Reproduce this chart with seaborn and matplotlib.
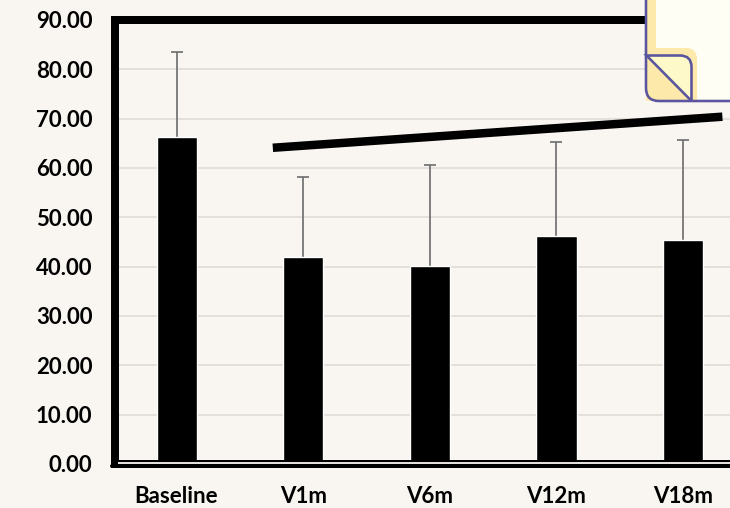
import matplotlib
matplotlib.use("Agg")
import matplotlib.pyplot as plt
import matplotlib.patches as mpatches
import pandas as pd
import seaborn as sns

visits = ["Baseline", "V1m", "V6m", "V12m", "V18m"]
means = [66.2, 42.0, 40.2, 46.2, 45.4]
upper = [83.5, 58.2, 60.6, 65.3, 65.7]
trend_x = [0.76, 4.31]
trend_y = [64.1, 70.4]
y_ticks = [0, 10, 20, 30, 40, 50, 60, 70, 80, 90]

BG = "#F9F5F0"
W, H = 730, 508
px = 72 / 100  # points per pixel

sns.set_theme(style="white")
plt.rcParams["font.family"] = ["Lato", "DejaVu Sans"]

df = pd.DataFrame({"visit": visits, "mean": means})

fig = plt.figure(figsize=(W / 100, H / 100), dpi=100, facecolor=BG)
ax = fig.add_axes([114.5 / W, 1 - 464 / H, (W - 114.5) / W, (464 - 20) / H])
ax.set_facecolor(BG)

sns.barplot(data=df, x="visit", y="mean", color="black", width=0.316,
            saturation=1, ax=ax, zorder=3)
errs = [u - m for u, m in zip(upper, means)]
_, caps, _ = ax.errorbar(range(len(visits)), means, yerr=[[0] * len(errs), errs], fmt="none",
                         ecolor="#6F6F6F", elinewidth=1.7 * px, capsize=6 * px,
                         capthick=1.7 * px, zorder=2)
caps[0].remove()  # only the upper cap is drawn
ax.plot(trend_x, trend_y, color="black", lw=8.5 * px, zorder=4,
        solid_capstyle="butt", clip_on=False)

ax.set_xlim(-0.49, 4.37)
ax.set_ylim(0, 90)
ax.set_yticks(y_ticks)
ax.set_yticklabels([f"{v:.2f}" for v in y_ticks])
ax.set_xlabel("")
ax.set_ylabel("")
ax.grid(axis="y", color="#DDD9D5", lw=1.5 * px, zorder=0)
ax.set_axisbelow(True)
ax.tick_params(axis="both", length=0, labelsize=16, labelcolor="black")
ax.tick_params(axis="y", pad=16)
ax.tick_params(axis="x", pad=15.5)
for t in ax.get_xticklabels() + ax.get_yticklabels():
    t.set_fontweight("bold")
for side in ["top", "left"]:
    ax.spines[side].set_linewidth(8 * px)
    ax.spines[side].set_color("black")
ax.spines["right"].set_visible(False)
ax.spines["bottom"].set_visible(False)

# overlay in pixel coordinates for the double baseline and the note corner
ov = fig.add_axes([0, 0, 1, 1], zorder=5)
ov.set_xlim(0, W)
ov.set_ylim(H, 0)
ov.axis("off")
ov.patch.set_alpha(0)

ov.plot([112, W], [466, 466], color="black", lw=4 * px, solid_capstyle="round")
ov.plot([118, W], [461, 461], color="black", lw=2 * px, solid_capstyle="butt")
ov.plot([118, W], [463, 463], color="#E4E1DC", lw=2 * px, solid_capstyle="butt")

NOTE = "#FFFEF4"
BAND = "#FDE9A9"
EDGE = "#5A559E"
ov.add_patch(mpatches.Rectangle((646, -5), 90, 106.5, fc=NOTE, ec="none"))
ov.add_patch(mpatches.PathPatch(
    mpatches.Path([(646, -5), (656, -5), (656, 48), (686, 48), (697, 48), (697, 59),
                   (697, 101), (646, 101), (646, -5)],
                  [1, 2, 2, 2, 3, 3, 2, 2, 79]),
    fc=BAND, ec="none"))
# fold
fold_verts = [(646.5, 55.5), (680, 55.5), (691.5, 55.5), (691.5, 67), (691.5, 101), (646.5, 55.5)]
ov.add_patch(mpatches.PathPatch(mpatches.Path(fold_verts, [1, 2, 3, 3, 2, 79]),
                                fc="#FEF9C8", ec=EDGE, lw=2.6 * px))
ov.add_patch(mpatches.PathPatch(
    mpatches.Path([(646, -5), (646, 88), (646, 101), (659, 101), (736, 101)], [1, 2, 3, 3, 2]),
    fc="none", ec=EDGE, lw=2.6 * px))

fig.savefig("out.png", dpi=100, facecolor=BG)
